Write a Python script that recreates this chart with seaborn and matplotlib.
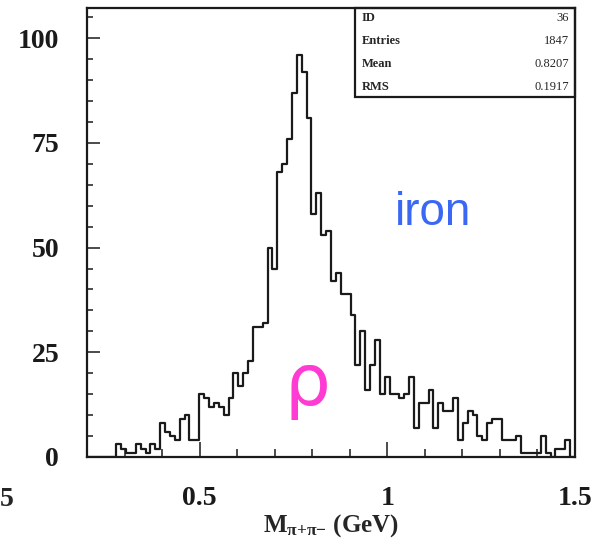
import numpy as np
import pandas as pd
import seaborn as sns
import matplotlib.pyplot as plt
from matplotlib.ticker import MultipleLocator
from matplotlib.patches import Rectangle

# counts per bin, 100 bins from 0.2 to 1.5 GeV
counts = [0, 0, 0, 0, 0, 0, 3, 2, 1, 1,
          3, 2, 1, 3, 2, 8, 6, 5, 4, 9,
          10, 4, 4, 15, 14, 12, 13, 12, 10, 14,
          20, 17, 20, 23, 31, 31, 32, 50, 45, 68,
          70, 76, 87, 96, 92, 81, 58, 63, 53, 54,
          42, 44, 39, 39, 34, 22, 30, 16, 22, 28,
          15, 19, 15, 15, 14, 15, 19, 7, 13, 13,
          16, 7, 13, 11, 11, 14, 4, 8, 11, 10,
          5, 4, 8, 9, 9, 4, 4, 4, 5, 1,
          1, 1, 1, 5, 1, 0, 2, 2, 4, 0]
mass_lo, mass_hi = 0.2, 1.5

stat_names = ['ID', 'Entries', 'Mean', 'RMS']
stat_values = ['36', '1847', '0.8207', '0.1917']

x_ticks = [0.5, 1, 1.5]
x_ticklabels = ['0.5', '1', '1.5']
y_ticks = [0, 25, 50, 75, 100]

edges = np.linspace(mass_lo, mass_hi, len(counts) + 1)
centers = (edges[:-1] + edges[1:]) / 2
df = pd.DataFrame({'mass': centers, 'count': counts})

sns.set_style('white')
plt.rcParams['font.family'] = ['Liberation Serif', 'DejaVu Serif']
plt.rcParams['mathtext.fontset'] = 'custom'
plt.rcParams['mathtext.rm'] = 'Liberation Serif:bold'
plt.rcParams['mathtext.it'] = 'Liberation Serif:bold'
plt.rcParams['mathtext.default'] = 'rm'

fig = plt.figure(figsize=(5.94, 5.39), dpi=100)
ax = fig.add_axes([87 / 594, 1 - 457 / 539, 488 / 594, 449 / 539])

sns.histplot(data=df, x='mass', weights='count', bins=len(counts),
             binrange=(mass_lo, mass_hi), element='step',
             fill=False, color='#1a1a1a', linewidth=1.6, ax=ax)

ax.set_xlim(mass_lo, mass_hi)
ax.set_ylim(0, 107.2)
ax.set_ylabel('')
ax.set_xlabel(r'M$_{\pi{+}\pi{-}}$ (GeV)', fontsize=18, fontweight='bold', labelpad=1)

for s in ax.spines.values():
    s.set_linewidth(1.6)
    s.set_color('#1a1a1a')

ax.set_xticks(x_ticks)
ax.set_xticklabels(x_ticklabels)
ax.set_yticks(y_ticks)
ax.xaxis.set_minor_locator(MultipleLocator(0.1))
ax.yaxis.set_minor_locator(MultipleLocator(5))
ax.tick_params(axis='both', which='both', direction='in', top=False, right=False,
               bottom=True, left=True, width=1.1, colors='#1a1a1a')
ax.tick_params(axis='y', which='major', length=9.5, pad=20, labelsize=20)
ax.tick_params(axis='y', which='minor', length=4.5)
ax.tick_params(axis='x', which='major', length=11, pad=21, labelsize=20)
ax.tick_params(axis='x', which='minor', length=5.5)
for lab in ax.get_xticklabels() + ax.get_yticklabels():
    lab.set_fontweight('bold')

# stats box
ax.add_patch(Rectangle((0.549, 0.802), 0.451, 0.198, transform=ax.transAxes,
                       fill=False, edgecolor='#1a1a1a', linewidth=1.6, clip_on=False))
row_y = [0.977, 0.926, 0.875, 0.824]
for name, val, yy in zip(stat_names, stat_values, row_y):
    ax.text(0.563, yy, name, transform=ax.transAxes, fontsize=9,
            fontweight='bold', va='center', ha='left')
    ax.text(0.987, yy, val, transform=ax.transAxes, fontsize=9,
            va='center', ha='right')

ax.text(0.2 + (433 - 87) / 375, (457 - 213) / 4.19, 'iron', color='#3a68f5',
        fontsize=33, family='Liberation Sans', ha='center', va='center')
ax.text(0.2 + (307 - 87) / 375, (457 - 385) / 4.19, '\u03c1', color='#ff3bd4',
        fontsize=52, family='DejaVu Sans', ha='center', va='center')

fig.text(0.0, 1 - 500 / 539, '5', fontsize=20, fontweight='bold',
         ha='left', va='center')

fig.savefig('out.png', dpi=100)
